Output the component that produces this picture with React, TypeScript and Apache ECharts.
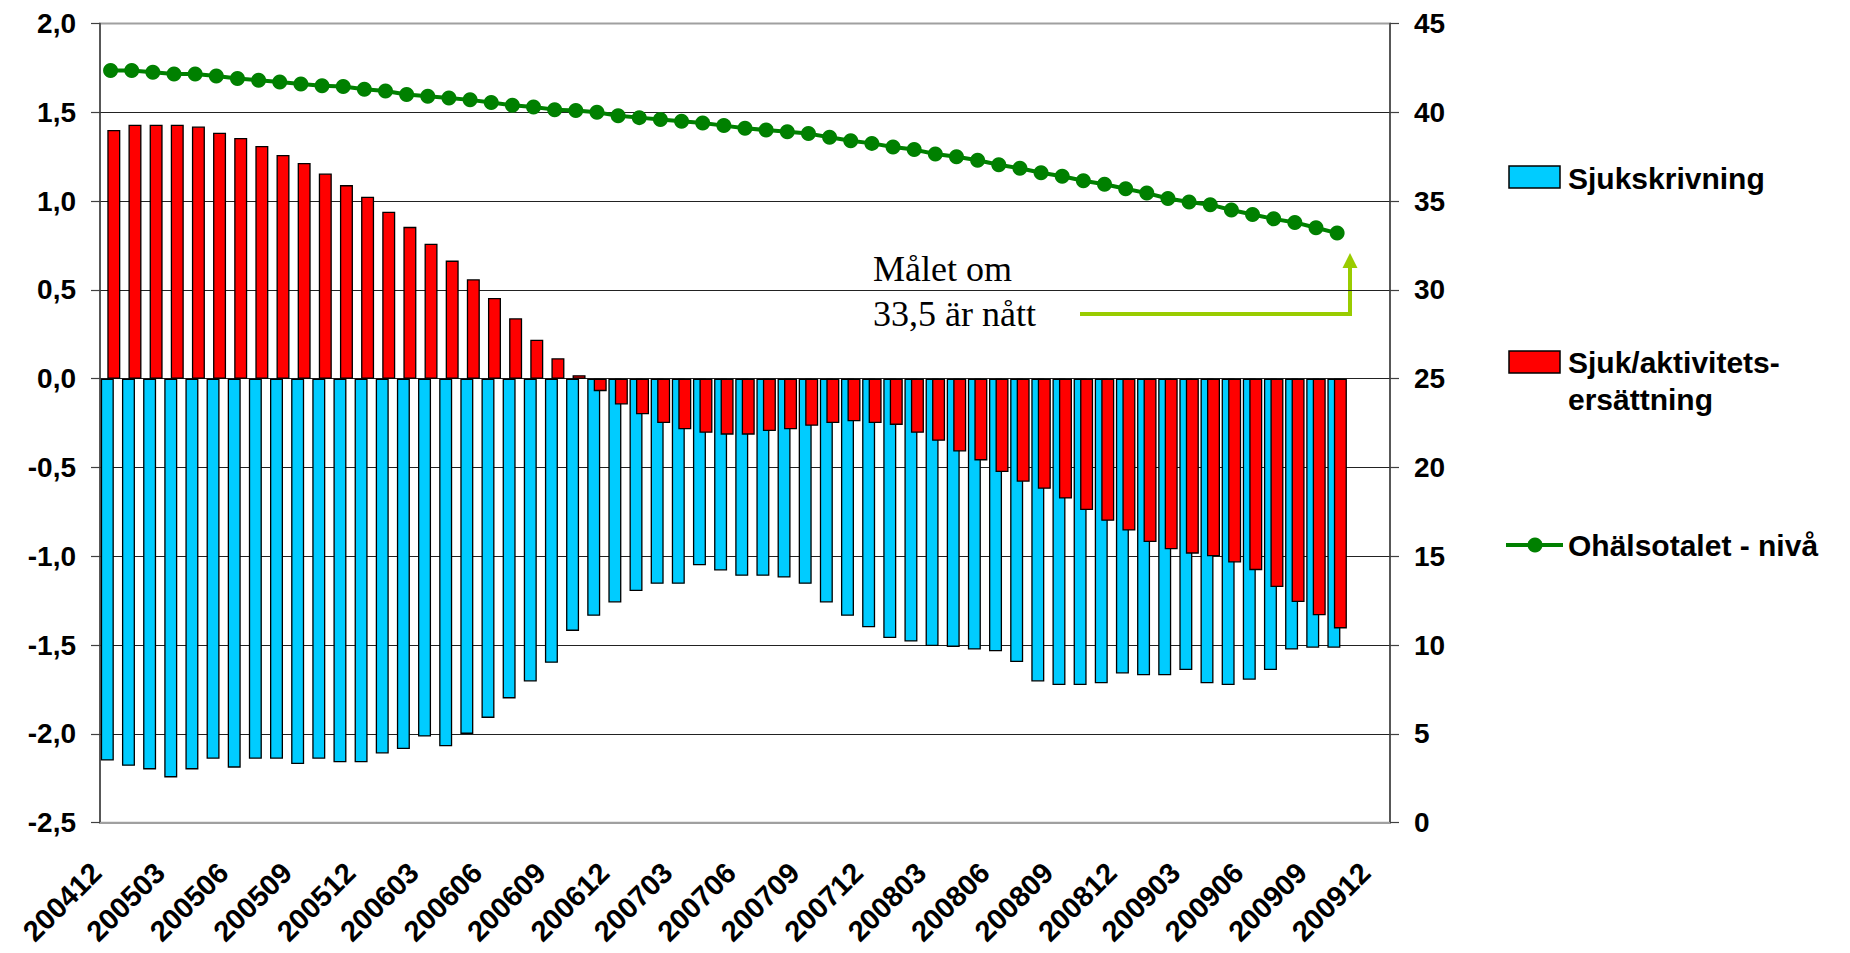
import { useEffect, useRef } from "react";
import * as echarts from "echarts";

const categories = [
  "200412",
  "200501", "200502", "200503", "200504", "200505", "200506", "200507", "200508", "200509", "200510", "200511", "200512",
  "200601", "200602", "200603", "200604", "200605", "200606", "200607", "200608", "200609", "200610", "200611", "200612",
  "200701", "200702", "200703", "200704", "200705", "200706", "200707", "200708", "200709", "200710", "200711", "200712",
  "200801", "200802", "200803", "200804", "200805", "200806", "200807", "200808", "200809", "200810", "200811", "200812",
  "200901", "200902", "200903", "200904", "200905", "200906", "200907", "200908", "200909", "200910", "200911", "200912",
];

// Sjukskrivning (blue bars), left axis
const sjukskrivning = [
  -2.15, -2.18, -2.2, -2.245, -2.2, -2.14, -2.19, -2.14, -2.14, -2.17,
  -2.14, -2.16, -2.16, -2.11, -2.085, -2.015, -2.07, -2.0, -1.91, -1.8,
  -1.705, -1.6, -1.42, -1.335, -1.26, -1.195, -1.155, -1.155, -1.05, -1.08,
  -1.11, -1.11, -1.12, -1.155, -1.26, -1.335, -1.4, -1.46, -1.48, -1.505,
  -1.51, -1.525, -1.535, -1.595, -1.705, -1.725, -1.725, -1.715, -1.66, -1.67,
  -1.67, -1.64, -1.715, -1.725, -1.695, -1.64, -1.525, -1.515, -1.515,
];

// Sjuk/aktivitetsersättning (red bars), left axis
const sjukAktivitet = [
  1.4, 1.43, 1.43, 1.43, 1.42, 1.385, 1.355, 1.31, 1.26, 1.215,
  1.155, 1.09, 1.025, 0.94, 0.855, 0.76, 0.665, 0.56, 0.455, 0.34,
  0.22, 0.115, 0.02, -0.07, -0.145, -0.2, -0.25, -0.285, -0.305, -0.315,
  -0.315, -0.295, -0.285, -0.265, -0.25, -0.24, -0.25, -0.26, -0.305, -0.35,
  -0.41, -0.46, -0.525, -0.58, -0.62, -0.675, -0.74, -0.8, -0.855, -0.92,
  -0.96, -0.985, -1.0, -1.035, -1.078, -1.173, -1.257, -1.332, -1.406,
];

// Ohälsotalet - nivå (green line), right axis
const ohalsotalet = [
  42.35, 42.35, 42.25, 42.15, 42.15, 42.05, 41.9, 41.8, 41.7, 41.6,
  41.5, 41.45, 41.3, 41.2, 41.0, 40.9, 40.8, 40.7, 40.55, 40.4,
  40.3, 40.15, 40.1, 40.0, 39.8, 39.7, 39.6, 39.5, 39.4, 39.25,
  39.1, 39.0, 38.9, 38.8, 38.6, 38.4, 38.25, 38.05, 37.9, 37.65,
  37.5, 37.3, 37.05, 36.85, 36.6, 36.4, 36.15, 35.95, 35.7, 35.45,
  35.15, 34.95, 34.8, 34.5, 34.25, 34.0, 33.8, 33.5, 33.2,
];

const seriesNames = ["Sjukskrivning", "Sjuk/aktivitetsersättning", "Ohälsotalet - nivå"];

const SANS = '"Liberation Sans", Arial, sans-serif';
const SERIF = '"Liberation Serif", "Times New Roman", serif';
const BLUE = "#00CCFF";
const RED = "#FF0000";
const GREEN = "#008000";
const ARROW = "#99CC00";

export default function App() {
  const ref = useRef<HTMLDivElement>(null);

  useEffect(() => {
    if (!ref.current) return;
    const chart = echarts.init(ref.current, null, { renderer: "svg" });

    const splitColors = [
      "rgba(0,0,0,0)", "#222", "#222", "#222", "#222", "#222", "#222", "#222", "#222", "rgba(0,0,0,0)",
    ];

    const legendFont = `bold 30px ${SANS}`;

    const option: any = {
      animation: false,
      backgroundColor: "#ffffff",
      grid: {
        left: 100,
        right: 460,
        top: 23.5,
        bottom: 130.3,
        containLabel: false,
        show: true,
        borderColor: "#a0a0a0",
        borderWidth: 2,
      },
      xAxis: {
        type: "category",
        data: categories,
        boundaryGap: true,
        axisLine: { onZero: false, lineStyle: { color: "#a0a0a0", width: 2 } },
        axisTick: { show: false },
        axisLabel: {
          interval: 2,
          rotate: 45,
          margin: 31,
          padding: [0, 20, 0, 0],
          fontSize: 29,
          fontWeight: "bold",
          fontFamily: SANS,
          color: "#000",
        },
        splitLine: { show: false },
      },
      yAxis: [
        {
          type: "value",
          min: -2.5,
          max: 2,
          interval: 0.5,
          position: "left",
          axisLine: { show: true, lineStyle: { color: "#404040", width: 1.5 } },
          axisTick: { show: true, length: 9, lineStyle: { color: "#404040", width: 1.2 } },
          axisLabel: {
            formatter: (v: number) => v.toFixed(1).replace(".", ","),
            fontSize: 28,
            fontWeight: "bold",
            fontFamily: SANS,
            color: "#000",
            margin: 24,
          },
          splitLine: { show: true, lineStyle: { color: splitColors, width: 1.2 } },
        },
        {
          type: "value",
          min: 0,
          max: 45,
          interval: 5,
          position: "right",
          axisLine: { show: true, lineStyle: { color: "#404040", width: 1.5 } },
          axisTick: { show: true, length: 9, lineStyle: { color: "#404040", width: 1.2 } },
          axisLabel: {
            fontSize: 28,
            fontWeight: "bold",
            fontFamily: SANS,
            color: "#000",
            margin: 24,
          },
          splitLine: { show: false },
        },
      ],
      series: [
        {
          name: seriesNames[0],
          type: "bar",
          data: sjukskrivning,
          barWidth: 13,
          barGap: "-50%",
          itemStyle: { color: BLUE, borderColor: "#000", borderWidth: 1.3 },
          z: 2,
        },
        {
          name: seriesNames[1],
          type: "bar",
          data: sjukAktivitet,
          barWidth: 13,
          barGap: "-50%",
          itemStyle: { color: RED, borderColor: "#000", borderWidth: 1.3 },
          z: 2,
        },
        {
          name: seriesNames[2],
          type: "line",
          yAxisIndex: 1,
          data: ohalsotalet,
          symbol: "circle",
          symbolSize: 15,
          showSymbol: true,
          showAllSymbol: true,
          lineStyle: { color: GREEN, width: 4 },
          itemStyle: { color: GREEN },
          z: 5,
        },
      ],
      graphic: [
        // Annotation
        {
          type: "text",
          left: 873,
          top: 251,
          style: { text: "Målet om", font: `36px ${SERIF}`, fill: "#000" },
        },
        {
          type: "text",
          left: 873,
          top: 296,
          style: { text: "33,5 är nått", font: `36px ${SERIF}`, fill: "#000" },
        },
        {
          type: "polyline",
          shape: { points: [[1080, 314], [1350, 314], [1350, 266]] },
          style: { stroke: ARROW, lineWidth: 4, fill: "none" },
        },
        {
          type: "polygon",
          shape: { points: [[1342.5, 268], [1357.5, 268], [1350, 253]] },
          style: { fill: ARROW },
        },
        // Legend
        {
          type: "rect",
          shape: { x: 1509, y: 166, width: 51, height: 22 },
          style: { fill: BLUE, stroke: "#000", lineWidth: 1.5 },
        },
        {
          type: "text",
          x: 1568,
          y: 178,
          style: { text: "Sjukskrivning", font: legendFont, fill: "#000", verticalAlign: "middle", align: "left" },
        },
        {
          type: "rect",
          shape: { x: 1509, y: 351, width: 51, height: 22 },
          style: { fill: RED, stroke: "#000", lineWidth: 1.5 },
        },
        {
          type: "text",
          x: 1568,
          y: 362,
          style: { text: "Sjuk/aktivitets-", font: legendFont, fill: "#000", verticalAlign: "middle", align: "left" },
        },
        {
          type: "text",
          x: 1568,
          y: 399,
          style: { text: "ersättning", font: legendFont, fill: "#000", verticalAlign: "middle", align: "left" },
        },
        {
          type: "line",
          shape: { x1: 1506, y1: 545, x2: 1563, y2: 545 },
          style: { stroke: GREEN, lineWidth: 4 },
        },
        {
          type: "circle",
          shape: { cx: 1535, cy: 545, r: 7.5 },
          style: { fill: GREEN },
        },
        {
          type: "text",
          x: 1568,
          y: 545,
          style: { text: "Ohälsotalet - nivå", font: legendFont, fill: "#000", verticalAlign: "middle", align: "left" },
        },
      ],
    };

    chart.setOption(option);
    return () => chart.dispose();
  }, []);

  return (
    <div
      ref={ref}
      style={{ position: "absolute", left: 0, top: 0, width: 1850, height: 953, background: "#fff" }}
    />
  );
}
